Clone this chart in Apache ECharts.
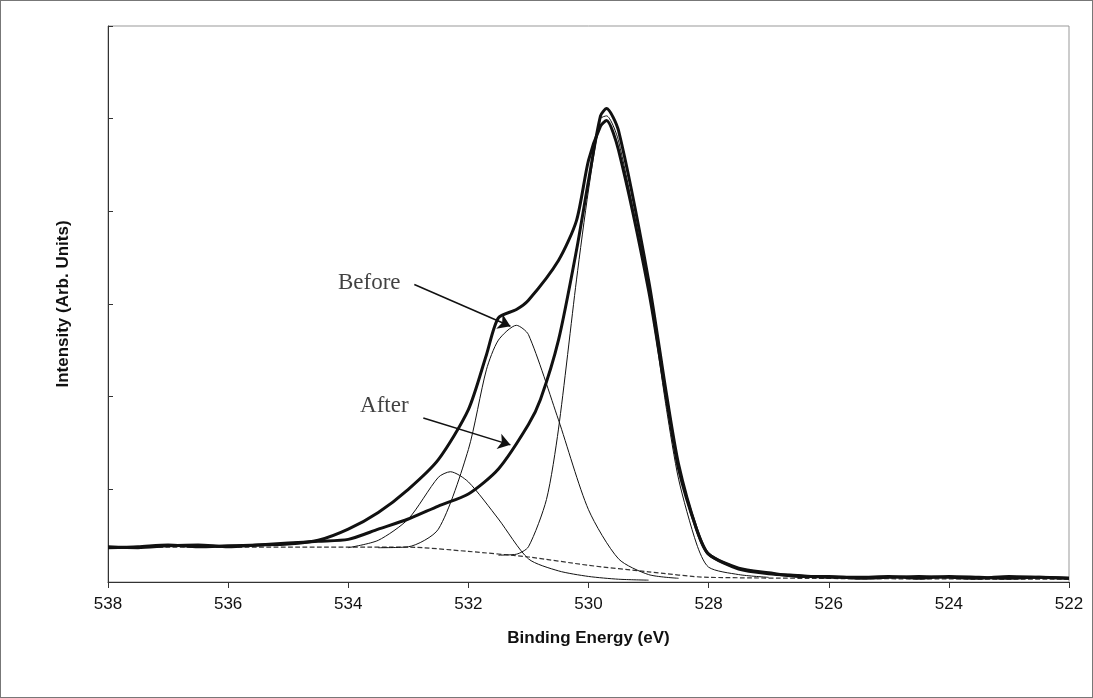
<!DOCTYPE html>
<html><head><meta charset="utf-8">
<script src="https://cdn.jsdelivr.net/npm/echarts@6/dist/echarts.min.js"></script>
<style>html,body{margin:0;padding:0;background:#fff}#c{width:1093px;height:698px;box-sizing:border-box;border:1px solid #777}</style>
</head><body><div id="c"></div>
<script>
const xTicks = [538,536,534,532,530,528,526,524,522];
const beforeE = [538,537.5,537,536.5,536,535.5,535,534.5,534,533.5,533,532.5,532,531.7,531.5,531.2,531,530.5,530.2,530,529.8,529.7,529.5,529,528.7,528.5,528.2,528,527.5,527,526.5,526,525.5,525,524.5,524,523.5,523,522.5,522];
const beforeV = [0.37,0.38,0.40,0.38,0.39,0.40,0.41,0.45,0.57,0.75,1.0,1.32,1.86,2.45,2.85,2.94,3.04,3.47,3.9,4.55,4.92,4.98,4.66,3.15,1.97,1.22,0.57,0.30,0.14,0.09,0.07,0.05,0.05,0.06,0.04,0.06,0.05,0.04,0.05,0.04];
const afterE = [538,537.5,537,536.5,536,535.5,535,534.5,534,533.5,533,532.5,532,531.5,531,530.8,530.5,530.2,530,529.8,529.7,529.5,529,528.7,528.5,528.2,528,527.5,527,526.5,526,525.5,525,524.5,524,523.5,523,522.5,522];
const afterV = [0.38,0.37,0.39,0.40,0.38,0.40,0.42,0.44,0.46,0.57,0.68,0.82,0.95,1.22,1.7,1.97,2.61,3.58,4.33,5.03,5.11,4.87,3.26,2.02,1.27,0.57,0.30,0.15,0.10,0.06,0.06,0.04,0.05,0.06,0.05,0.04,0.06,0.05,0.04];
const peakAE = [534,533.5,533,532.5,532.3,532,531.5,531,530.5,530,529.5,529];
const peakAV = [0.37,0.45,0.68,1.13,1.19,1.08,0.68,0.25,0.12,0.06,0.03,0.02];
const peakBE = [533.5,533,532.5,532,531.7,531.5,531.2,531,530.5,530,529.5,529,528.5];
const peakBV = [0.37,0.38,0.57,1.43,2.29,2.61,2.77,2.67,1.75,0.78,0.25,0.08,0.04];
const peakCE = [531.5,531.2,531,530.7,530.5,530.2,530,529.8,529.7,529.5,529,528.7,528.5,528.2,528,527.5,527];
const peakCV = [0.29,0.30,0.38,0.89,1.65,3.26,4.23,5.0,5.03,4.76,3.15,1.86,1.11,0.41,0.16,0.08,0.05];
const baseE = [538,533,532,531,530,529,528,522];
const baseV = [0.376,0.376,0.33,0.27,0.18,0.11,0.05,0.03];
const zip = (a,b)=>a.map((x,i)=>[x,b[i]]);
const thin = {type:'line',symbol:'none',smooth:0.25,lineStyle:{color:'#111',width:1}};
const ch = echarts.init(document.getElementById('c'));
ch.setOption({
  animation:false,
  grid:{left:107,right:23,top:25,bottom:115,show:true,borderColor:'#999',borderWidth:1},
  xAxis:{type:'value',inverse:true,min:522,max:538,interval:2,
    name:'Binding Energy (eV)',nameLocation:'middle',nameGap:48,
    nameTextStyle:{fontFamily:'Liberation Sans',fontWeight:'bold',fontSize:17,color:'#111'},
    axisLine:{lineStyle:{color:'#333'}},axisTick:{show:true,length:6,lineStyle:{color:'#333'}},
    axisLabel:{fontFamily:'Liberation Sans',fontSize:17,color:'#111',margin:14},splitLine:{show:false}},
  yAxis:{type:'value',min:0,max:6,interval:1,
    name:'Intensity (Arb. Units)',nameLocation:'middle',nameGap:36,
    nameTextStyle:{fontFamily:'Liberation Sans',fontWeight:'bold',fontSize:17,color:'#111'},
    axisLine:{show:true,lineStyle:{color:'#333'}},axisTick:{show:true,inside:true,length:5,lineStyle:{color:'#333'}},
    axisLabel:{show:false},splitLine:{show:false}},
  series:[
    {...thin,data:zip(baseE,baseV),lineStyle:{color:'#333',width:1.2,type:'dashed'}},
    {...thin,data:zip(peakAE,peakAV)},
    {...thin,data:zip(peakBE,peakBV)},
    {...thin,data:zip(peakCE,peakCV)},
    {type:'line',symbol:'none',smooth:0.25,data:zip(beforeE,beforeV),lineStyle:{color:'#111',width:3},
      markLine:{silent:true,symbol:['none','arrow'],symbolSize:12,label:{show:false},lineStyle:{color:'#111',width:1.5,type:'solid'},
        data:[[{coord:[532.9,3.21]},{coord:[531.3,2.76]}],[{coord:[532.75,1.77]},{coord:[531.3,1.48]}]]}},
    {type:'line',symbol:'none',smooth:0.25,data:zip(afterE,afterV),lineStyle:{color:'#111',width:3}},
    {type:'scatter',symbolSize:0,data:[{value:[533.65,3.23],name:'Before'},{value:[533.4,1.9],name:'After'}],
      label:{show:true,formatter:p=>p.name,fontFamily:'Liberation Serif',fontSize:23,color:'#111',position:'inside'}}
  ]
});
</script></body></html>
